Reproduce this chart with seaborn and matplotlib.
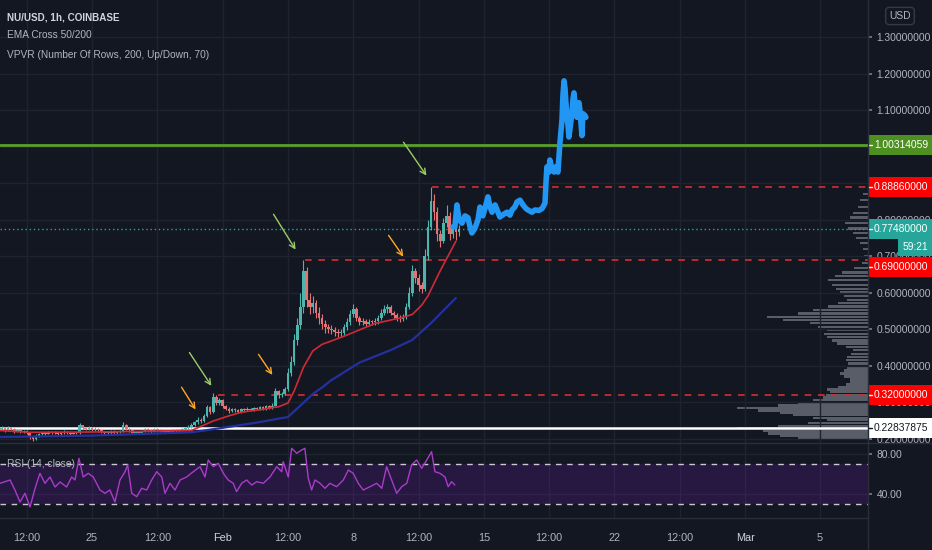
import numpy as np
import matplotlib
matplotlib.use("Agg")
import matplotlib.pyplot as plt
from matplotlib.patches import Rectangle
from matplotlib.lines import Line2D
import seaborn as sns

# ---- data --------------------------------------------------------------
# 4h candles starting Jan 20 00:00; time axis = days since Jan 25 00:00
first_open = 0.222
closes = [0.225, 0.228, 0.222, 0.230, 0.226, 0.220, 0.224, 0.218, 0.221, 0.215,
          0.205, 0.198, 0.208, 0.212, 0.216, 0.213, 0.218, 0.214, 0.217, 0.212,
          0.215, 0.219, 0.216, 0.213, 0.216, 0.214, 0.236, 0.228, 0.226, 0.230,
          0.224, 0.227, 0.222, 0.218, 0.214, 0.216, 0.220, 0.214, 0.217, 0.221,
          0.238, 0.226, 0.222, 0.216, 0.218, 0.214, 0.220, 0.225, 0.222, 0.219,
          0.226, 0.222, 0.220, 0.218, 0.221, 0.219, 0.223, 0.220, 0.222, 0.226,
          0.228, 0.232, 0.238, 0.244, 0.252, 0.248, 0.262, 0.285, 0.272, 0.315,
          0.298, 0.305, 0.288, 0.282, 0.276, 0.280, 0.278, 0.274, 0.280, 0.278,
          0.281, 0.279, 0.283, 0.280, 0.285, 0.282, 0.288, 0.284, 0.290, 0.330,
          0.318, 0.322, 0.335, 0.380, 0.410, 0.470, 0.510, 0.560, 0.660, 0.580,
          0.560, 0.570, 0.545, 0.530, 0.515, 0.505, 0.500, 0.498, 0.492, 0.488,
          0.490, 0.505, 0.520, 0.540, 0.555, 0.530, 0.518, 0.522, 0.515, 0.520,
          0.518, 0.522, 0.530, 0.545, 0.555, 0.560, 0.545, 0.538, 0.530, 0.528,
          0.532, 0.560, 0.600, 0.660, 0.640, 0.620, 0.610, 0.700, 0.780, 0.850,
          0.820, 0.760, 0.740, 0.790, 0.810, 0.760, 0.780, 0.765, 0.775]
highs = [0.230, 0.233, 0.231, 0.234, 0.232, 0.228, 0.227, 0.226, 0.224, 0.223,
         0.217, 0.208, 0.211, 0.215, 0.219, 0.219, 0.221, 0.220, 0.220, 0.219,
         0.218, 0.222, 0.221, 0.218, 0.219, 0.218, 0.242, 0.238, 0.231, 0.234,
         0.232, 0.231, 0.229, 0.224, 0.220, 0.219, 0.223, 0.222, 0.220, 0.224,
         0.244, 0.240, 0.229, 0.224, 0.221, 0.220, 0.223, 0.228, 0.228, 0.225,
         0.229, 0.228, 0.225, 0.223, 0.224, 0.224, 0.226, 0.225, 0.225, 0.229,
         0.232, 0.236, 0.242, 0.249, 0.258, 0.256, 0.268, 0.292, 0.290, 0.325,
         0.320, 0.311, 0.309, 0.292, 0.286, 0.284, 0.283, 0.281, 0.284, 0.283,
         0.285, 0.284, 0.287, 0.286, 0.289, 0.288, 0.292, 0.291, 0.296, 0.338,
         0.334, 0.328, 0.342, 0.392, 0.425, 0.485, 0.530, 0.600, 0.690, 0.670,
         0.600, 0.590, 0.580, 0.560, 0.540, 0.525, 0.515, 0.510, 0.505, 0.500,
         0.500, 0.515, 0.530, 0.552, 0.568, 0.560, 0.536, 0.530, 0.528, 0.527,
         0.526, 0.530, 0.538, 0.556, 0.565, 0.568, 0.565, 0.550, 0.545, 0.538,
         0.540, 0.570, 0.615, 0.675, 0.668, 0.650, 0.630, 0.720, 0.800, 0.8886,
         0.870, 0.835, 0.770, 0.805, 0.840, 0.820, 0.800, 0.790, 0.785]
lows = [0.219, 0.222, 0.218, 0.220, 0.222, 0.216, 0.217, 0.214, 0.215, 0.211,
        0.200, 0.192, 0.196, 0.205, 0.209, 0.210, 0.211, 0.211, 0.212, 0.209,
        0.209, 0.213, 0.213, 0.210, 0.211, 0.211, 0.213, 0.225, 0.222, 0.223,
        0.221, 0.221, 0.219, 0.214, 0.210, 0.211, 0.213, 0.211, 0.211, 0.214,
        0.219, 0.223, 0.219, 0.212, 0.213, 0.211, 0.212, 0.218, 0.219, 0.216,
        0.217, 0.219, 0.217, 0.215, 0.216, 0.216, 0.217, 0.217, 0.218, 0.220,
        0.223, 0.225, 0.229, 0.235, 0.240, 0.243, 0.245, 0.258, 0.266, 0.270,
        0.292, 0.292, 0.283, 0.277, 0.271, 0.272, 0.274, 0.270, 0.271, 0.274,
        0.275, 0.276, 0.276, 0.277, 0.277, 0.279, 0.279, 0.281, 0.281, 0.288,
        0.312, 0.314, 0.318, 0.330, 0.372, 0.402, 0.455, 0.500, 0.545, 0.560,
        0.540, 0.545, 0.530, 0.515, 0.500, 0.490, 0.488, 0.485, 0.480, 0.478,
        0.478, 0.484, 0.498, 0.512, 0.532, 0.522, 0.510, 0.510, 0.508, 0.508,
        0.510, 0.512, 0.515, 0.524, 0.538, 0.545, 0.538, 0.530, 0.522, 0.520,
        0.522, 0.528, 0.555, 0.590, 0.625, 0.605, 0.598, 0.605, 0.690, 0.770,
        0.800, 0.740, 0.725, 0.735, 0.780, 0.745, 0.750, 0.745, 0.755]

# EMA Cross 50/200, read at a few candle numbers
ema_fast_bar = [0, 10, 33, 62, 69, 74, 78, 84, 90, 93, 95, 98, 101, 104, 111,
                121, 130, 133, 136, 138, 142, 147]
ema_fast = [0.222, 0.217, 0.218, 0.222, 0.248, 0.262, 0.272, 0.279, 0.287, 0.297,
            0.330, 0.395, 0.440, 0.458, 0.480, 0.515, 0.532, 0.540, 0.565, 0.590,
            0.660, 0.740]
ema_slow_bar = [0, 30, 62, 71, 84, 93, 97, 101, 104, 107, 116, 126, 133, 139, 147]
ema_slow = [0.204, 0.208, 0.217, 0.228, 0.245, 0.259, 0.290, 0.322, 0.340, 0.360,
            0.408, 0.442, 0.470, 0.516, 0.585]

# hand-drawn projection (blue brush)
brush_t = [19.35, 19.45, 19.56, 19.67, 19.83, 19.99, 20.15, 20.26, 20.36, 20.53,
           20.69, 20.79, 20.95, 21.11, 21.22, 21.33, 21.44, 21.60, 21.76, 21.86,
           22.08, 22.24, 22.40, 22.51, 22.67, 22.78, 22.94, 23.10, 23.26, 23.37,
           23.58, 23.74, 23.95, 24.12, 24.28, 24.33, 24.38, 24.49, 24.54, 24.65,
           24.76, 24.87, 24.97, 25.08, 25.19, 25.24, 25.30, 25.35, 25.40, 25.46,
           25.51, 25.56, 25.62, 25.72, 25.78, 25.83, 25.88, 25.99, 26.10, 26.15,
           26.26, 26.31, 26.42, 26.47]
brush_p = [0.780, 0.780, 0.840, 0.800, 0.790, 0.810, 0.805, 0.780, 0.763, 0.777,
           0.800, 0.834, 0.810, 0.840, 0.862, 0.835, 0.820, 0.840, 0.820, 0.807,
           0.815, 0.820, 0.812, 0.826, 0.835, 0.848, 0.853, 0.840, 0.830, 0.826,
           0.820, 0.826, 0.825, 0.830, 0.845, 0.900, 0.944, 0.930, 0.963, 0.940,
           0.930, 0.945, 0.930, 1.010, 1.073, 1.140, 1.180, 1.160, 1.120, 1.080,
           1.060, 1.026, 1.050, 1.090, 1.130, 1.147, 1.120, 1.080, 1.120, 1.100,
           1.030, 1.090, 1.085, 1.080]

# levels: (price, start day) for the red dashed resistance lines
level_green = 1.00314059
level_white = 0.22837875
last_price = 0.7748
red_levels = [0.8886, 0.69, 0.32]
red_starts = [18.2, 11.4, 6.75]

# arrows (start day, start price, end day, end price)
arrows_orange = [(4.72, 0.347, 5.63, 0.273), (8.84, 0.437, 9.75, 0.368),
                 (15.81, 0.763, 16.77, 0.692)]
arrows_green = [(5.14, 0.442, 6.48, 0.338), (9.65, 0.821, 10.99, 0.711),
                (16.61, 1.018, 18.01, 0.914)]

# VPVR (volume profile), width in arbitrary units
vp_price = [0.200, 0.207, 0.214, 0.221, 0.228, 0.235, 0.242, 0.250, 0.257, 0.264,
            0.270, 0.277, 0.283, 0.290, 0.297, 0.305, 0.312, 0.320, 0.327, 0.334,
            0.341, 0.348, 0.355, 0.362, 0.370, 0.378, 0.386, 0.395, 0.405, 0.415,
            0.423, 0.432, 0.442, 0.451, 0.460, 0.469, 0.478, 0.487, 0.497, 0.506,
            0.516, 0.524, 0.533, 0.542, 0.552, 0.562, 0.571, 0.580, 0.590, 0.600,
            0.610, 0.620, 0.634, 0.645, 0.655, 0.668, 0.680, 0.700, 0.720, 0.735,
            0.750, 0.763, 0.775, 0.790, 0.805, 0.818, 0.835, 0.853, 0.870]
vp_vol = [70, 88, 100, 105, 131, 90, 60, 41, 55, 75,
          88, 110, 131, 90, 70, 55, 45, 42, 38, 41,
          30, 22, 18, 18, 24, 28, 24, 21, 20, 22,
          21, 17, 15, 22, 31, 36, 41, 44, 41, 50,
          58, 85, 101, 70, 55, 40, 30, 21, 24, 28,
          32, 36, 40, 33, 26, 14, 6, 4, 5, 8,
          12, 15, 20, 23, 18, 15, 10, 8, 5]

# RSI (14, close)
rsi_t = [-4.93, -4.39, -4.13, -3.86, -3.59, -3.32, -3.05, -2.79, -2.52, -2.25,
         -1.98, -1.71, -1.36, -1.09, -0.91, -0.70, -0.47, -0.20, 0.07, 0.43,
         0.70, 0.96, 1.23, 1.50, 1.77, 1.91, 2.13, 2.40, 2.66, 2.93,
         3.20, 3.47, 3.74, 3.91, 4.18, 4.45, 4.72, 5.07, 5.43, 5.79,
         6.06, 6.23, 6.50, 6.77, 7.04, 7.30, 7.57, 7.75, 8.02, 8.29,
         8.56, 8.83, 9.18, 9.54, 9.90, 10.17, 10.25, 10.52, 10.70, 10.97,
         11.24, 11.41, 11.59, 11.77, 11.95, 12.22, 12.49, 12.75, 13.11, 13.47,
         13.74, 14.00, 14.27, 14.54, 14.90, 15.26, 15.53, 15.79, 16.06, 16.33,
         16.60, 16.87, 17.13, 17.40, 17.67, 17.94, 18.20, 18.38, 18.65, 18.92,
         19.09, 19.27, 19.45]
rsi_v = [50.7, 54, 44, 32, 40.7, 27, 45.7, 60.7, 50.7, 57,
         47, 52, 47, 57, 54, 75.7, 57, 60.7, 57, 44,
         40.7, 44, 32, 54, 62.3, 69, 40.7, 37.3, 45.7, 44,
         54, 62.3, 57, 40.7, 50.7, 44, 54, 57, 62.3, 67.3,
         57, 74, 67.3, 70.7, 60.7, 54, 50.7, 42.3, 50.7, 54,
         49, 52.3, 50.7, 57, 67.3, 62.3, 72.3, 57, 85.7, 80.7,
         84, 85.7, 55.7, 44, 54, 50.7, 45.7, 50.7, 47.3, 54,
         64, 60.7, 50.7, 44, 47.3, 50.7, 45.7, 67.3, 54, 40.7,
         47.3, 50.7, 69, 74, 65.7, 74, 82.3, 62.3, 60.7, 57,
         47.3, 52.3, 49]

price_ticks = [0.2, 0.3, 0.4, 0.5, 0.6, 0.7, 0.8, 0.9, 1.0, 1.1, 1.2, 1.3]
hidden_ticks = [0.9, 1.0]   # fully covered by the level tags in the original
rsi_ticks = [80, 40]
time_ticks = [-3.5, 0, 3.5, 7, 10.5, 14, 17.5, 21, 24.5, 28, 31.5, 35, 39]
time_labels = ["12:00", "25", "12:00", "Feb", "12:00", "8", "12:00", "15",
               "12:00", "22", "12:00", "Mar", "5"]

# ---- style ---------------------------------------------------------------
BG = "#131722"
GRID = "#1f2330"
SEP = "#2a2e39"
TXT = "#b2b5be"
UP, DOWN = "#4db6ac", "#e57373"
FS = 7.4

sns.set_theme(style="dark", rc={"axes.facecolor": BG, "figure.facecolor": BG})
plt.rcParams["font.family"] = ["Liberation Sans", "DejaVu Sans"]

W, H = 932, 550
fig = plt.figure(figsize=(W / 100, H / 100), dpi=100)
fig.patch.set_facecolor(BG)
ax = fig.add_axes([0, 1 - 443 / H, 868 / W, 443 / H])
ax_rsi = fig.add_axes([0, 1 - 518 / H, 868 / W, 75 / H])

XMIN, XMAX = -4.93, 41.59
YMIN, YMAX = 0.1877, 1.4014
PX_PER_PRICE = 443 / (YMAX - YMIN)

# volume profile on a twin axis, drawn behind the candles
ax_vp = ax.twiny()
ax_vp.set_zorder(ax.get_zorder() - 1)
ax.patch.set_visible(False)
ax_vp.patch.set_facecolor(BG)
ax_vp.barh(vp_price, vp_vol, height=0.0065, left=0, color="#787b86", alpha=0.7,
           linewidth=0)
ax_vp.set_xlim(868, 0)
ax_vp.set_xticks([])
for s in ax_vp.spines.values():
    s.set_visible(False)

# candles
n = len(closes)
t = -5 + np.arange(n) / 6
o = np.array([first_open] + closes[:-1])
c = np.array(closes)
cols = np.where(c >= o, UP, DOWN)
body_lo = np.minimum(o, c)
body_h = np.maximum(np.abs(c - o), 0.003)
ax.vlines(t, lows, highs, colors=cols, lw=0.8, zorder=3)
ax.bar(t, body_h, bottom=body_lo, width=0.14, color=cols, linewidth=0, zorder=3)

# EMA lines
sns.lineplot(x=-5 + np.array(ema_slow_bar) / 6, y=ema_slow, ax=ax, color="#2430a0",
             lw=1.6, zorder=4)
sns.lineplot(x=-5 + np.array(ema_fast_bar) / 6, y=ema_fast, ax=ax, color="#d02a36",
             lw=1.2, zorder=4)

# levels
ax.axhline(level_green, color="#5a9f2a", lw=2, zorder=2)
ax.axhline(level_white, color="#ffffff", lw=1.8, zorder=2)
ax.axhline(last_price, color="#26a69a", lw=1, ls=(0, (1, 2)), zorder=2)
for lv, st in zip(red_levels, red_starts):
    ax.hlines(lv, st, XMAX, color="#d32f2f", lw=1.2, linestyles=(0, (4, 4)), zorder=2)

# projection brush
sns.lineplot(x=brush_t, y=brush_p, ax=ax, color="#2196f3", lw=4, sort=False,
             zorder=5)

for x0, y0, x1, y1 in arrows_orange:
    ax.annotate("", xy=(x1, y1), xytext=(x0, y0),
                arrowprops=dict(arrowstyle="->", color="#ffa726", lw=1.0,
                                mutation_scale=10))
for x0, y0, x1, y1 in arrows_green:
    ax.annotate("", xy=(x1, y1), xytext=(x0, y0),
                arrowprops=dict(arrowstyle="->", color="#9ccc65", lw=1.0,
                                mutation_scale=10))

ax.set_xlim(XMIN, XMAX)
ax.set_ylim(YMIN, YMAX)
ax_vp.set_ylim(YMIN, YMAX)
ax.set_xticks(time_ticks)
ax.set_yticks(price_ticks)
ax.set_yticklabels(["" if v in hidden_ticks else f"{v:.8f}" for v in price_ticks])
ax.yaxis.tick_right()
ax.tick_params(axis="x", length=0, labelbottom=False)
ax.tick_params(axis="y", length=3, pad=3, labelsize=FS, labelcolor=TXT,
               color="#787b86")
ax.grid(True, color=GRID, lw=1)
ax.set_xlabel("")
ax.set_ylabel("")
for s in ax.spines.values():
    s.set_visible(False)


def price_tag(axis, y, text, bg, fg, px_per_unit, h_px=20, x0_px=0, w_px=64):
    tr = axis.get_yaxis_transform()
    h = h_px / px_per_unit
    axis.add_patch(Rectangle((1 + x0_px / 868, y - h / 2), w_px / 868, h,
                             transform=tr, facecolor=bg, edgecolor="none",
                             clip_on=False, zorder=10))
    axis.add_line(Line2D([1, 1 + 4 / 868], [y, y], transform=tr, color=fg, lw=1,
                         clip_on=False, zorder=11))
    axis.text(1 + (x0_px + 6) / 868, y, text, transform=tr, color=fg, fontsize=FS,
              ha="left", va="center", clip_on=False, zorder=11)


price_tag(ax, level_green, f"{level_green:.8f}", "#4d8f21", "#ffffff", PX_PER_PRICE)
price_tag(ax, red_levels[0], f"{red_levels[0]:.8f}", "#ff0000", "#ffffff", PX_PER_PRICE)
price_tag(ax, last_price, f"{last_price:.8f}", "#26a69a", "#ffffff", PX_PER_PRICE)
price_tag(ax, 0.670, f"{red_levels[1]:.8f}", "#ff0000", "#ffffff", PX_PER_PRICE)
price_tag(ax, red_levels[2], f"{red_levels[2]:.8f}", "#ff0000", "#ffffff", PX_PER_PRICE)
price_tag(ax, level_white, f"{level_white:.8f}", "#ffffff", "#131722", PX_PER_PRICE)
# bar countdown box under the last-price tag
tr = ax.get_yaxis_transform()
ax.add_patch(Rectangle((1 + 30 / 868, 0.7247 - 9 / PX_PER_PRICE), 34 / 868,
                       18 / PX_PER_PRICE, transform=tr, facecolor="#26a69a",
                       edgecolor="none", clip_on=False, zorder=10))
ax.text(1 + 47 / 868, 0.7247, "59:21", transform=tr, color="#ffffff", fontsize=FS,
        ha="center", va="center", clip_on=False, zorder=11)

# ---- RSI panel ------------------------------------------------------------
ax_rsi.axhspan(30, 70, color="#7e22ce", alpha=0.18, lw=0)
ax_rsi.axhline(70, color="#c8cad0", lw=1, ls=(0, (4, 4)))
ax_rsi.axhline(30, color="#c8cad0", lw=1, ls=(0, (4, 4)))
sns.lineplot(x=rsi_t, y=rsi_v, ax=ax_rsi, color="#a93cc8", lw=1)
ax_rsi.set_xlim(XMIN, XMAX)
ax_rsi.set_ylim(16, 91)
ax_rsi.set_xticks(time_ticks)
ax_rsi.set_xticklabels(time_labels)
ax_rsi.set_yticks(rsi_ticks)
ax_rsi.set_yticklabels([f"{v:.2f}" for v in rsi_ticks])
ax_rsi.yaxis.tick_right()
ax_rsi.tick_params(axis="x", length=0, pad=11, labelsize=FS + 0.4, labelcolor=TXT)
ax_rsi.tick_params(axis="y", length=3, pad=3, labelsize=FS, labelcolor=TXT,
                   color="#787b86")
for lab in ax_rsi.get_xticklabels():
    if lab.get_text() in ("Feb", "Mar"):
        lab.set_color("#d1d4dc")
ax_rsi.grid(True, color=GRID, lw=1)
ax_rsi.set_xlabel("")
ax_rsi.set_ylabel("")
for s in ax_rsi.spines.values():
    s.set_visible(False)
ax_rsi.text(7 / 868, 1 - 21 / 75, "RSI (14, close)", transform=ax_rsi.transAxes,
            color=TXT, fontsize=FS, ha="left", va="center")

# panel separators
fig.add_artist(Line2D([0, 1], [1 - 443 / H] * 2, color=SEP, lw=1))
fig.add_artist(Line2D([0, 868 / W], [1 - 518 / H] * 2, color=SEP, lw=1))
fig.add_artist(Line2D([868 / W] * 2, [0, 1], color=SEP, lw=1))

# header
fig.text(7 / W, 1 - 17 / H, "NU/USD, 1h, COINBASE", color="#d1d4dc", fontsize=7.1,
         fontweight="bold", ha="left", va="center")
fig.text(7 / W, 1 - 35 / H, "EMA Cross 50/200", color=TXT, fontsize=7.3,
         ha="left", va="center")
fig.text(7 / W, 1 - 55 / H, "VPVR (Number Of Rows, 200, Up/Down, 70)", color=TXT,
         fontsize=7.3, ha="left", va="center")
fig.text(900 / W, 1 - 16 / H, "USD", color=TXT, fontsize=FS, ha="center",
         va="center", bbox=dict(boxstyle="round,pad=0.35", fc=BG, ec="#363a45"))

fig.savefig("out.png", dpi=100, facecolor=BG)
